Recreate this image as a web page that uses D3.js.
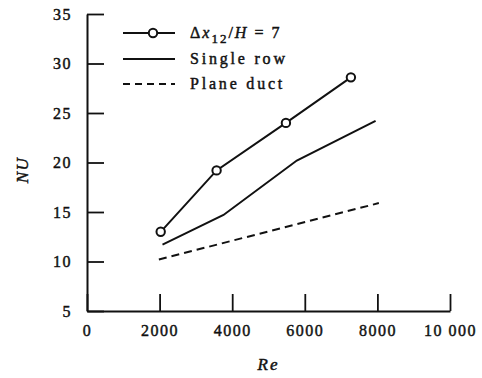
<!DOCTYPE html>
<html>
<head>
<meta charset="utf-8">
<script src="https://cdn.jsdelivr.net/npm/d3@7"></script>
<style>
  body { margin: 0; background: #fff; }
  text { font-family: "Liberation Serif", "DejaVu Serif", serif; fill: #111; stroke: #111; stroke-width: 0.45px; }
</style>
</head>
<body>
<div id="chart"></div>
<script>
// data
var staggeredRe = [2030, 3570, 5480, 7270];
var staggeredNu = [13.0, 19.2, 24.0, 28.6];
var singleRe = [2080, 3760, 5780, 7950];
var singleNu = [11.7, 14.7, 20.2, 24.2];
var ductRe = [1980, 8040];
var ductNu = [10.2, 15.9];
var xTicks = [0, 2000, 4000, 6000, 8000, 10000];
var xTickLabels = ["0", "2000", "4000", "6000", "8000", "10 000"];
var yTicks = [5, 10, 15, 20, 25, 30, 35];
var legendLabels = ["Single row", "Plane duct"];

var width = 482, height = 378;
var svg = d3.select("#chart").append("svg")
  .attr("width", width)
  .attr("height", height);

var x = d3.scaleLinear().domain([0, 10000]).range([87, 450]);
var y = d3.scaleLinear().domain([5, 35]).range([311, 14]);

// axes: ticks point inward, no outer ticks
var xAxis = d3.axisBottom(x).tickValues(xTicks).tickSize(-17).tickSizeOuter(0)
  .tickFormat(function(d, i) { return xTickLabels[i]; });
var yAxis = d3.axisLeft(y).tickValues(yTicks).tickSize(-17).tickSizeOuter(0);

var gx = svg.append("g").attr("transform", "translate(0," + y(5) + ")").call(xAxis);
var gy = svg.append("g").attr("transform", "translate(" + x(0) + ",0)").call(yAxis);

[gx, gy].forEach(function(g) {
  g.select(".domain").attr("stroke", "#111").attr("stroke-width", 2);
  g.selectAll(".tick line").attr("stroke", "#111").attr("stroke-width", 1.8);
  g.selectAll(".tick text")
    .style("font-family", "Liberation Serif")
    .style("font-size", "16px")
    .style("letter-spacing", "1.5px")
    .attr("fill", "#111");
});
gx.selectAll(".tick text").attr("dy", "1.4em");
gy.selectAll(".tick text").attr("x", -15);

// axis titles
svg.append("text")
  .attr("x", x(5000)).attr("y", 370)
  .attr("text-anchor", "middle")
  .style("font-style", "italic").style("font-size", "17px")
  .style("letter-spacing", "2px")
  .text("Re");
svg.append("text")
  .attr("transform", "translate(28,170) rotate(-90)")
  .attr("text-anchor", "middle")
  .style("font-style", "italic").style("font-size", "17px")
  .style("letter-spacing", "1.5px")
  .text("NU");

var line = d3.line()
  .x(function(d) { return x(d[0]); })
  .y(function(d) { return y(d[1]); });

function pairs(xs, ys) { return xs.map(function(v, i) { return [v, ys[i]]; }); }

var staggered = pairs(staggeredRe, staggeredNu);

svg.append("path").datum(pairs(ductRe, ductNu))
  .attr("d", line).attr("fill", "none").attr("stroke", "#111")
  .attr("stroke-width", 2).attr("stroke-dasharray", "8,5");
svg.append("path").datum(pairs(singleRe, singleNu))
  .attr("d", line).attr("fill", "none").attr("stroke", "#111").attr("stroke-width", 2);
svg.append("path").datum(staggered)
  .attr("d", line).attr("fill", "none").attr("stroke", "#111").attr("stroke-width", 2);
svg.selectAll(".pt").data(staggered).enter().append("circle")
  .attr("class", "pt")
  .attr("cx", function(d) { return x(d[0]); })
  .attr("cy", function(d) { return y(d[1]); })
  .attr("r", 4.2)
  .attr("fill", "#fff").attr("stroke", "#111").attr("stroke-width", 2);

// legend
var lg = svg.append("g");
var rows = [33, 59, 84];
lg.append("line").attr("x1", 123).attr("x2", 175).attr("y1", rows[0]).attr("y2", rows[0])
  .attr("stroke", "#111").attr("stroke-width", 2);
lg.append("circle").attr("cx", 153).attr("cy", rows[0]).attr("r", 4.2)
  .attr("fill", "#fff").attr("stroke", "#111").attr("stroke-width", 2);
lg.append("line").attr("x1", 123).attr("x2", 175).attr("y1", rows[1]).attr("y2", rows[1])
  .attr("stroke", "#111").attr("stroke-width", 2);
lg.append("line").attr("x1", 123).attr("x2", 175).attr("y1", rows[2]).attr("y2", rows[2])
  .attr("stroke", "#111").attr("stroke-width", 2).attr("stroke-dasharray", "7,5");

var t0 = lg.append("text").attr("x", 190).attr("y", rows[0] + 5)
  .style("font-size", "16px").style("letter-spacing", "2px");
t0.append("tspan").text("\u0394");
t0.append("tspan").style("font-style", "italic").text("x");
t0.append("tspan").attr("dy", 5).style("font-size", "13px").text("12");
t0.append("tspan").attr("dy", -5).text("/");
t0.append("tspan").style("font-style", "italic").text("H");
t0.append("tspan").text(" =  7");

lg.selectAll(".lt").data(legendLabels).enter().append("text")
  .attr("class", "lt")
  .attr("x", 190)
  .attr("y", function(d, i) { return rows[i + 1] + 5; })
  .style("font-size", "16px").style("letter-spacing", "2.8px")
  .text(function(d) { return d; });
</script>
</body>
</html>
